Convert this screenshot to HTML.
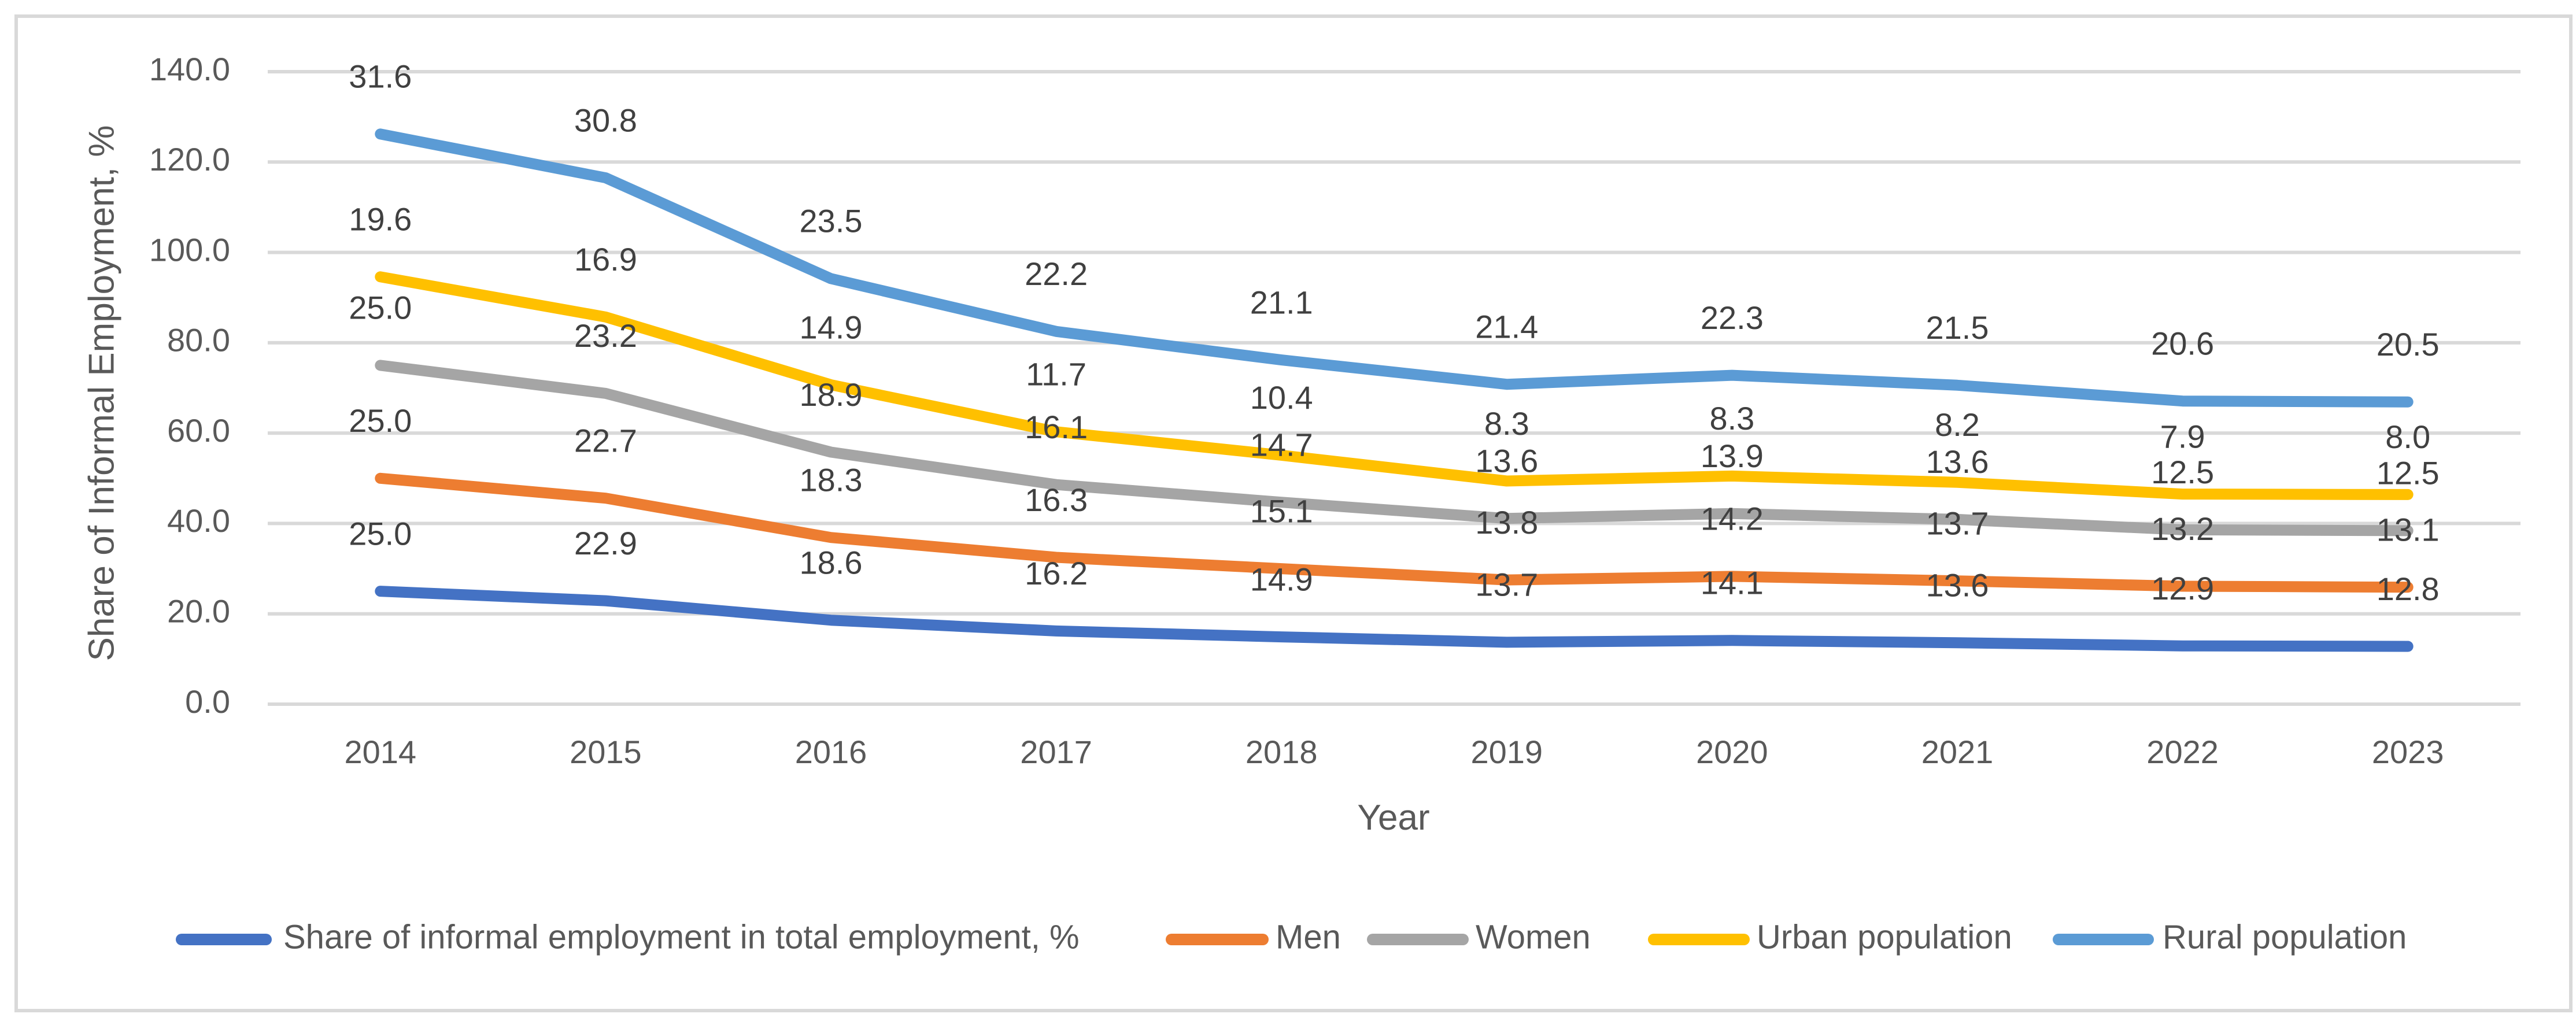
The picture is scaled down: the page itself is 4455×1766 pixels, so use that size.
<!DOCTYPE html>
<html><head><meta charset="utf-8"><style>
html,body{margin:0;padding:0;background:#fff}
svg{display:block}
text{font-family:"Liberation Sans",sans-serif}
</style></head><body>
<svg id="chart" width="4455" height="1766" viewBox="0 0 4455 1766">
<rect x="0" y="0" width="4455" height="1766" fill="#fff"/>
<rect x="28" y="28" width="4418" height="1720" fill="#fff" stroke="#d9d9d9" stroke-width="6"/>
<g id="grid"></g>
<g id="yticks"></g>
<g id="xticks"></g>
<g id="series"></g>
<g id="labels"></g>
<text x="180" y="680" transform="rotate(-90 180 680)" text-anchor="middle" dominant-baseline="middle" font-size="62" fill="#595959">Share of Informal Employment, %</text>
<text x="2410" y="1435" text-anchor="middle" font-size="62" fill="#595959">Year</text>
<g id="legend"></g>
</svg>
<script>
const years = ["2014","2015","2016","2017","2018","2019","2020","2021","2022","2023"];
const totalVals = [25.0,22.9,18.6,16.2,14.9,13.7,14.1,13.6,12.9,12.8];
const menVals = [25.0,22.7,18.3,16.3,15.1,13.8,14.2,13.7,13.2,13.1];
const womenVals = [25.0,23.2,18.9,16.1,14.7,13.6,13.9,13.6,12.5,12.5];
const urbanVals = [19.6,16.9,14.9,11.7,10.4,8.3,8.3,8.2,7.9,8.0];
const ruralVals = [31.6,30.8,23.5,22.2,21.1,21.4,22.3,21.5,20.6,20.5];
const seriesNames = ["Share of informal employment in total employment, %","Men","Women","Urban population","Rural population"];
const yTicks = [0,20,40,60,80,100,120,140];

const NS="http://www.w3.org/2000/svg";
const colors=["#4472C4","#ED7D31","#A5A5A5","#FFC000","#5B9BD5"];
const keys=["total","men","women","urban","rural"];
const X0=463,X1=4359,Y0=1218,Y1=124,YMAX=140;
const step=(X1-X0)/years.length;
const xs=i=>X0+step*(i+0.5);
const ys=v=>Y0-(v/YMAX)*(Y0-Y1);
function mk(tag,attrs,parent){const e=document.createElementNS(NS,tag);for(const k in attrs)e.setAttribute(k,attrs[k]);parent.appendChild(e);return e;}
const grid=document.getElementById('grid'),yt=document.getElementById('yticks'),xt=document.getElementById('xticks');
yTicks.forEach(t=>{
  const l=mk('line',{x1:X0,x2:X1,y1:ys(t),y2:ys(t),stroke:'#d9d9d9','stroke-width':6},grid);
  
  
  const tx=mk('text',{x:398,y:ys(t),'text-anchor':'end','dominant-baseline':'middle','font-size':56,fill:'#595959'},yt);
  tx.textContent=t.toFixed(1);
  
  
});
years.forEach((y,i)=>{
  const tx=mk('text',{x:xs(i),y:1320,'text-anchor':'middle','font-size':56,fill:'#595959'},xt);
  tx.textContent=y;
  
  
});
const raw=[totalVals,menVals,womenVals,urbanVals,ruralVals];
const cum=[];
raw.forEach((arr,s)=>{cum.push(arr.map((v,i)=>v+(s>0?cum[s-1][i]:0)));});
const sg=document.getElementById('series'),lg=document.getElementById('labels');
cum.forEach((arr,s)=>{
  const d=arr.map((v,i)=>(i?'L':'M')+xs(i).toFixed(1)+' '+ys(v).toFixed(1)).join(' ');
  const p=mk('path',{d:d,fill:'none',stroke:colors[s],'stroke-width':19,'stroke-linecap':'round','stroke-linejoin':'round'},sg);
  
  
});
cum.forEach((arr,s)=>{
  arr.forEach((v,i)=>{
    const tx=mk('text',{x:xs(i),y:ys(v)-95,'text-anchor':'middle','dominant-baseline':'middle','font-size':56,fill:'#404040'},lg);
    tx.textContent=raw[s][i].toFixed(1);
    
    
  });
});
const leg=document.getElementById('legend');
const legPos=[[304,470,490],[2016,2194,2206],[2364,2540,2552],[2850,3026,3038],[3550,3725,3740]];
seriesNames.forEach((n,s)=>{
  const l=mk('line',{x1:legPos[s][0]+10,x2:legPos[s][1]-10,y1:1625,y2:1625,stroke:colors[s],'stroke-width':20,'stroke-linecap':'round'},leg);
  
  
  const tx=mk('text',{x:legPos[s][2],y:1625,'dominant-baseline':'middle','font-size':58,fill:'#595959'},leg);
  tx.textContent=n;
  
  
});
</script>
</body></html>
